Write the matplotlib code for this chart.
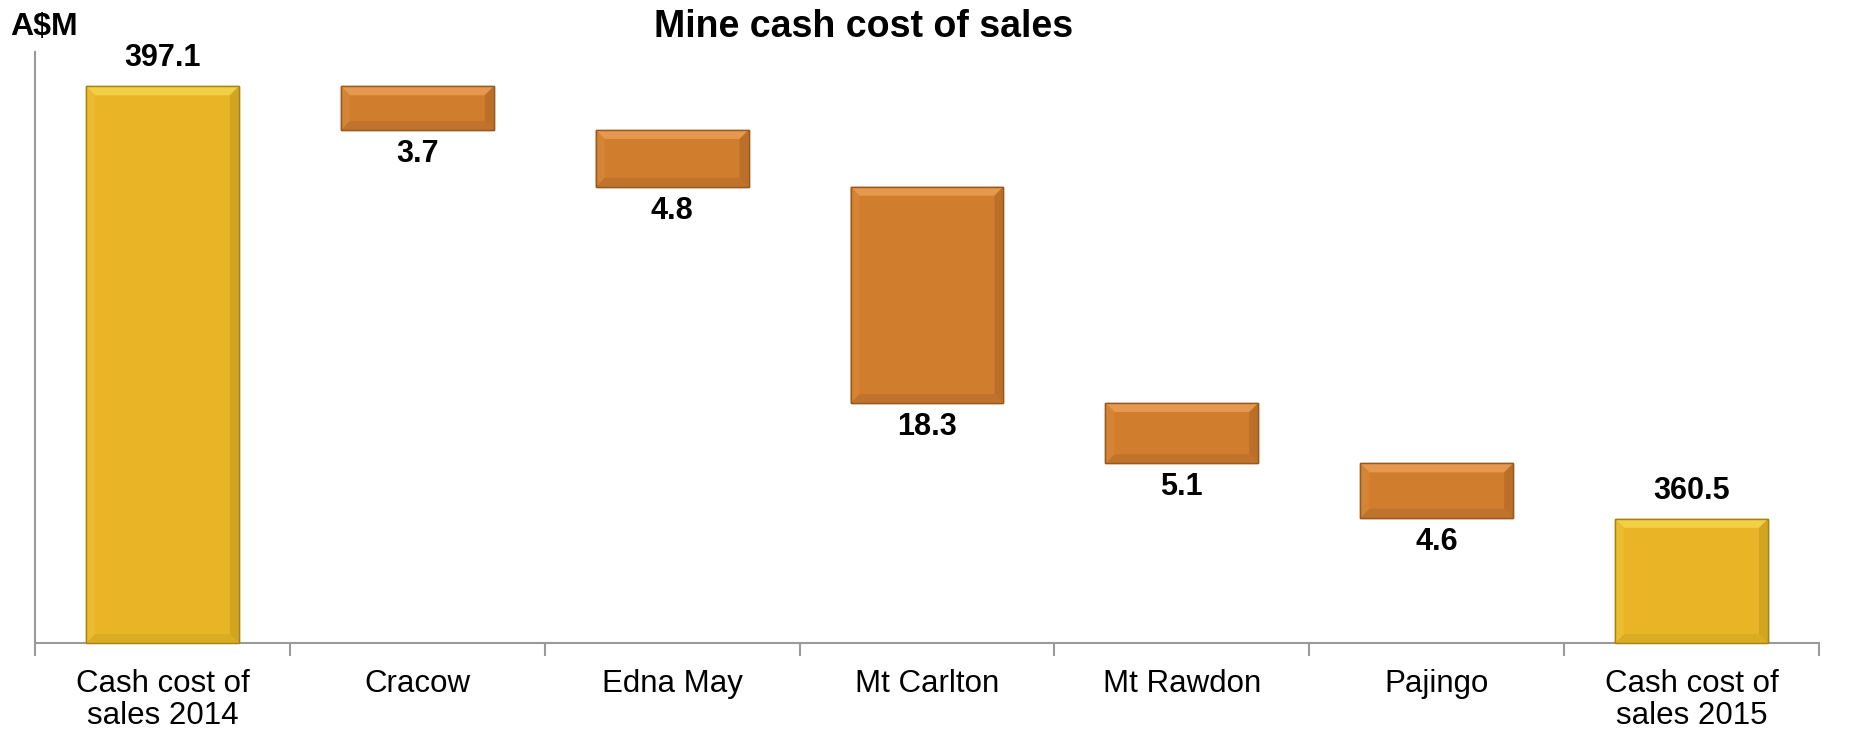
import matplotlib
matplotlib.use("Agg")
import matplotlib.pyplot as plt
from matplotlib.patches import Polygon
from matplotlib.transforms import IdentityTransform
import numpy as np

plt.rcParams['font.family'] = ['Liberation Sans', 'DejaVu Sans']

categories = ["Cash cost of\nsales 2014", "Cracow", "Edna May", "Mt Carlton",
              "Mt Rawdon", "Pajingo", "Cash cost of\nsales 2015"]
start_total = 397.1
decreases = [3.7, 4.8, 18.3, 5.1, 4.6]
end_total = 360.5
label_texts = ["397.1", "3.7", "4.8", "18.3", "5.1", "4.6", "360.5"]

title = "Mine cash cost of sales"
y_unit = "A$M"
y_min, y_max = 350, 400

gold = {"base": "#E9B526", "edge": "#A88014", "top": "#F3CF45",
        "left": "#ECBC30", "right": "#D2A521", "bottom": "#DAAC22"}
orange = {"base": "#D07E2E", "edge": "#98591F", "top": "#E4994E",
          "left": "#D48434", "right": "#BC6F29", "bottom": "#C0732B"}

fig = plt.figure(figsize=(18.73, 7.31), dpi=100)
ax = fig.add_axes([35/1873, 1-643/731, (1819-35)/1873, (643-52)/731])

x = np.arange(len(categories))
width = 0.6

ax.set_xlim(-0.5, len(categories) - 0.5)
ax.set_ylim(y_min, y_max)

# totals
tot_bars = ax.bar([x[0], x[-1]], [start_total - y_min, end_total - y_min], bottom=y_min,
                  width=width, color=gold["base"], edgecolor=gold["edge"], linewidth=1.0, zorder=3)

# decreases
level = start_total
bottoms = []
for d in decreases:
    level = level - d
    bottoms.append(level)
dec_bars = ax.bar(x[1:-1], decreases, bottom=bottoms, width=width, color=orange["base"],
                  edgecolor=orange["edge"], linewidth=1.0, zorder=3)


def bevel(patch, pal, d=9):
    bb = patch.get_window_extent()
    x0, y0, x1, y1 = bb.x0, bb.y0, bb.x1, bb.y1
    dd = min(d, (y1 - y0) / 2.5)
    faces = {
        "top": [(x0, y1), (x1, y1), (x1 - dd, y1 - dd), (x0 + dd, y1 - dd)],
        "bottom": [(x0, y0), (x1, y0), (x1 - dd, y0 + dd), (x0 + dd, y0 + dd)],
        "left": [(x0, y0), (x0, y1), (x0 + dd, y1 - dd), (x0 + dd, y0 + dd)],
        "right": [(x1, y0), (x1, y1), (x1 - dd, y1 - dd), (x1 - dd, y0 + dd)],
    }
    for k, pts in faces.items():
        ax.add_patch(Polygon(pts, closed=True, facecolor=pal[k], edgecolor="none",
                             transform=IdentityTransform(), zorder=4, clip_on=False))
    ax.add_patch(Polygon([(x0, y0), (x1, y0), (x1, y1), (x0, y1)], closed=True,
                         facecolor="none", edgecolor=pal["edge"], linewidth=1.0,
                         transform=IdentityTransform(), zorder=5, clip_on=False))


for p in tot_bars.patches:
    bevel(p, gold)
for p in dec_bars.patches:
    bevel(p, orange)

fs = 22
ax.annotate(label_texts[0], (x[0], start_total), xytext=(0, 13), textcoords="offset pixels",
            ha="center", va="bottom", fontsize=fs, fontweight="bold")
ax.annotate(label_texts[-1], (x[-1], end_total), xytext=(0, 13), textcoords="offset pixels",
            ha="center", va="bottom", fontsize=fs, fontweight="bold")
for i, b in enumerate(bottoms):
    ax.annotate(label_texts[i + 1], (x[i + 1], b), xytext=(0, -9), textcoords="offset pixels",
                ha="center", va="top", fontsize=fs, fontweight="bold")

for s in ["top", "right"]:
    ax.spines[s].set_visible(False)
for s in ["left", "bottom"]:
    ax.spines[s].set_color("#9A9A9A")
    ax.spines[s].set_linewidth(1.5)

ax.set_yticks([])
ax.set_xticks(x)
ax.set_xticklabels(categories, fontsize=22.5, linespacing=1.05)
ax.tick_params(axis="x", which="major", length=0, pad=19)
ax.set_xticks(np.arange(-0.5, len(categories)), minor=True)
ax.tick_params(axis="x", which="minor", length=9, width=1.5, color="#9A9A9A", direction="out")

fig.text(864/1873, 1-27/731, title, ha="center", va="center", fontsize=27, fontweight="bold")
fig.text(10/1873, 1-27/731, y_unit, ha="left", va="center", fontsize=23, fontweight="bold")

fig.savefig("out.png", dpi=100)
